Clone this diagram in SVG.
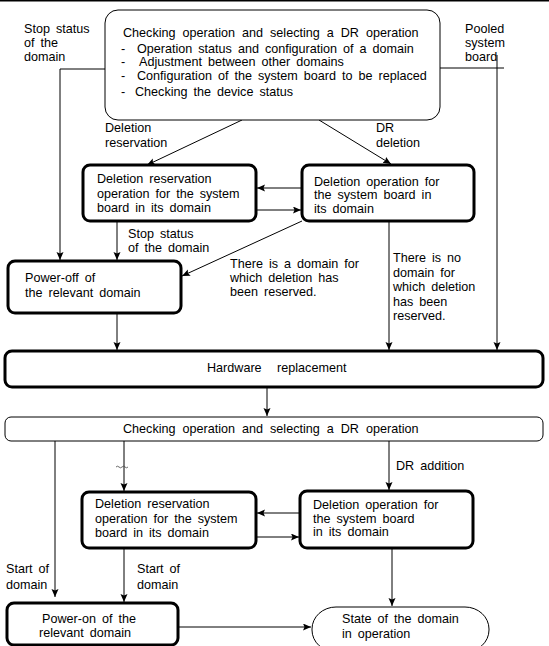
<svg xmlns="http://www.w3.org/2000/svg" width="549" height="646" viewBox="0 0 549 646">
<style>
text{font-family:"Liberation Sans",Arial,sans-serif;font-size:12.6px;fill:#000;word-spacing:2.5px}
.thin{fill:#fff;stroke:#000;stroke-width:1}
.thick{fill:#fff;stroke:#000;stroke-width:3}
.ln{fill:none;stroke:#000;stroke-width:1}
.arr{fill:none;stroke:#000;stroke-width:1;marker-end:url(#ah)}
</style>
<defs>
<marker id="ah" markerWidth="9" markerHeight="8" refX="8" refY="3.5" orient="auto" markerUnits="userSpaceOnUse">
<path d="M0,0 L8,3.5 L0,7 L1.5,3.5 z" fill="#000"/>
</marker>
</defs>
<rect x="0" y="0" width="549" height="646" fill="#fff"/>
<line x1="0" y1="0.75" x2="549" y2="0.75" stroke="#000" stroke-width="1.5"/>

<g id="connectors">
<polyline class="arr" points="105,69 60,69 60,260"/>
<line class="ln" x1="440" y1="68" x2="504" y2="68"/>
<line class="arr" x1="497" y1="55" x2="497" y2="350"/>
<line class="arr" x1="242" y1="120" x2="147" y2="165"/>
<line class="arr" x1="319" y1="120" x2="391" y2="164"/>
<line class="arr" x1="302" y1="188" x2="257" y2="188"/>
<line class="arr" x1="256" y1="210" x2="301" y2="210"/>
<line class="arr" x1="302" y1="221" x2="182" y2="276"/>
<line class="arr" x1="117" y1="222" x2="117" y2="260"/>
<line class="arr" x1="117" y1="313" x2="117" y2="350"/>
<line class="arr" x1="389" y1="221" x2="389" y2="350"/>
<line class="arr" x1="267" y1="387" x2="267" y2="416"/>
<line class="arr" x1="55" y1="441" x2="55" y2="597"/>
<line class="arr" x1="124" y1="441" x2="124" y2="491"/>
<path d="M116,467 q1.5,-1.6 3,0 t3,0 t3,0 t3,0" fill="none" stroke="#444" stroke-width="0.8"/>
<line class="arr" x1="389" y1="441" x2="389" y2="490"/>
<line class="arr" x1="300" y1="513" x2="257" y2="513"/>
<line class="arr" x1="256" y1="537" x2="299" y2="537"/>
<line class="arr" x1="124" y1="549" x2="124" y2="602"/>
<line class="arr" x1="178" y1="627" x2="311" y2="627"/>
<line class="arr" x1="392" y1="549" x2="392" y2="606"/>
</g>

<g id="labels">
<text x="24" y="33">Stop status</text>
<text x="24" y="47">of the</text>
<text x="24" y="61">domain</text>
<text x="465" y="33">Pooled</text>
<text x="465" y="47">system</text>
<text x="465" y="61">board</text>
<text x="105" y="132">Deletion</text>
<text x="105" y="147">reservation</text>
<text x="376" y="132">DR</text>
<text x="376" y="147">deletion</text>
<text x="128" y="238">Stop status</text>
<text x="128" y="252">of the domain</text>
<text x="230" y="268">There is a domain for</text>
<text x="230" y="282">which deletion has</text>
<text x="230" y="296">been reserved.</text>
<text x="393" y="262">There is no</text>
<text x="393" y="276.5">domain for</text>
<text x="393" y="291">which deletion</text>
<text x="393" y="305.5">has been</text>
<text x="393" y="320">reserved.</text>
<text x="396" y="470">DR addition</text>
<text x="6" y="573">Start of</text>
<text x="6" y="589">domain</text>
<text x="137" y="573">Start of</text>
<text x="137" y="589">domain</text>
</g>

<g id="check1">
<rect class="thin" x="105" y="10" width="335" height="110" rx="13"/>
<text x="123" y="37" style="word-spacing:3.5px">Checking operation and selecting a DR operation</text>
<text x="121" y="53">-</text>
<text x="137" y="53">Operation status and configuration of a domain</text>
<text x="121" y="66">-</text>
<text x="139" y="66">Adjustment between other domains</text>
<text x="121" y="80">-</text>
<text x="137" y="80">Configuration of the system board to be replaced</text>
<text x="121" y="96">-</text>
<text x="135" y="96">Checking the device status</text>
</g>

<g id="delres1">
<rect class="thick" x="83" y="165" width="173" height="56" rx="7"/>
<text x="97" y="183">Deletion reservation</text>
<text x="97" y="198">operation for the system</text>
<text x="97" y="212">board in its domain</text>
</g>

<g id="delop1">
<rect class="thick" x="302" y="165" width="172" height="56" rx="7"/>
<text x="314" y="186">Deletion operation for</text>
<text x="314" y="199">the system board in</text>
<text x="314" y="213">its domain</text>
</g>

<g id="poweroff">
<rect class="thick" x="8" y="261" width="173" height="52" rx="7"/>
<text x="25" y="282">Power-off of</text>
<text x="25" y="297">the relevant domain</text>
</g>

<g id="hardware">
<rect class="thick" x="5" y="351" width="538" height="36" rx="7"/>
<text x="207" y="372" style="word-spacing:12px">Hardware replacement</text>
</g>

<g id="check2">
<rect class="thin" x="5" y="417" width="538" height="24" rx="6"/>
<text x="123" y="433" style="word-spacing:3.5px">Checking operation and selecting a DR operation</text>
</g>

<g id="delres2">
<rect class="thick" x="82" y="492" width="174" height="56" rx="7"/>
<text x="95" y="508">Deletion reservation</text>
<text x="95" y="522.5">operation for the system</text>
<text x="95" y="536.5">board in its domain</text>
</g>

<g id="delop2">
<rect class="thick" x="300" y="491" width="173" height="57" rx="7"/>
<text x="313" y="509">Deletion operation for</text>
<text x="313" y="523">the system board</text>
<text x="313" y="536">in its domain</text>
</g>

<g id="poweron">
<rect class="thick" x="7" y="603" width="171" height="42" rx="7"/>
<text x="42" y="623">Power-on of the</text>
<text x="39" y="637">relevant domain</text>
</g>

<g id="state">
<rect class="thin" x="312" y="607" width="177" height="45" rx="24" ry="22"/>
<text x="342" y="623">State of the domain</text>
<text x="342" y="638">in operation</text>
</g>
</svg>
